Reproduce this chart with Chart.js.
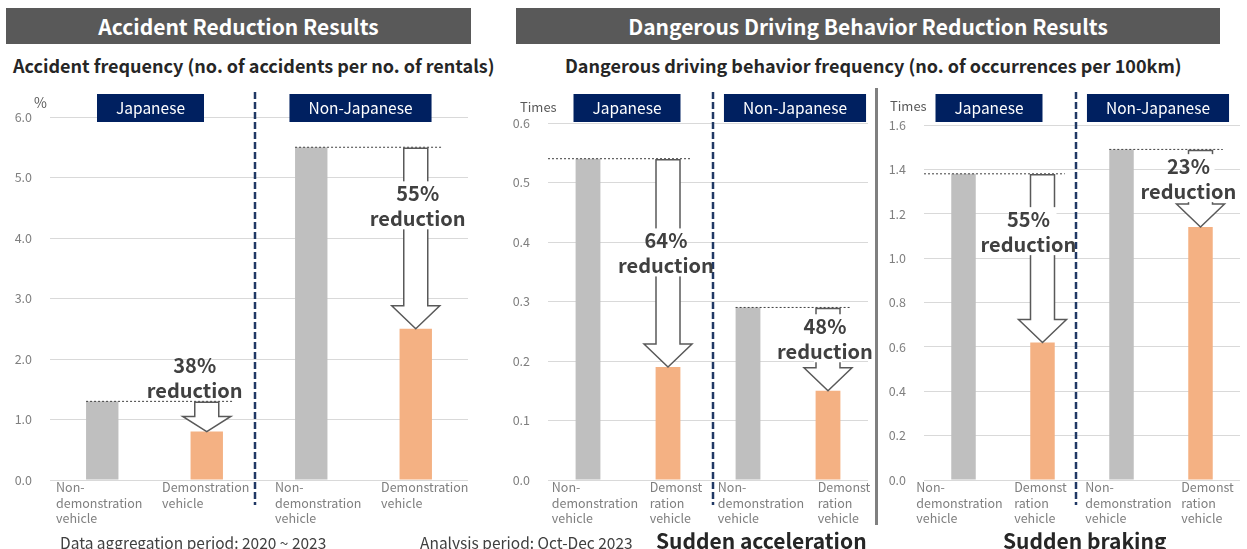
<!DOCTYPE html>
<html>
<head>
<meta charset="utf-8">
<script src="https://cdn.jsdelivr.net/npm/chart.js@4.4.0/dist/chart.umd.min.js"></script>
<style>
body { margin: 0; background: #fff; font-family: "Noto Sans CJK JP", "Noto Sans", sans-serif; }
#page { position: relative; width: 1247px; height: 549px; overflow: hidden; }
.head { position: absolute; top: 8px; height: 36px; background: #595959; color: #fff; font-weight: bold; font-size: 21px; line-height: 36px; text-align: center; }
.sub { position: absolute; top: 55px; font-weight: bold; font-size: 18px; line-height: 21px; color: #262626; white-space: nowrap; }
.unit { position: absolute; font-size: 13px; line-height: 16px; color: #595959; }
.foot { position: absolute; top: 532px; font-size: 15.5px; line-height: 20px; color: #404040; white-space: nowrap; }
.big { position: absolute; top: 527px; font-size: 21px; font-weight: bold; line-height: 26px; color: #262626; white-space: nowrap; }
canvas { position: absolute; }
</style>
</head>
<body>
<div id="page">
  <div class="head" style="left:6px;width:465px">Accident Reduction Results</div>
  <div class="head" style="left:516px;width:704px">Dangerous Driving Behavior Reduction Results</div>
  <div class="sub" style="left:13px">Accident frequency (no. of accidents per no. of rentals)</div>
  <div class="sub" style="left:565px">Dangerous driving behavior frequency (no. of occurrences per 100km)</div>

  <canvas id="accident" width="500" height="455" style="left:0;top:80px"></canvas>
  <canvas id="accel" width="375" height="455" style="left:500px;top:80px"></canvas>
  <canvas id="braking" width="369" height="455" style="left:878px;top:80px"></canvas>

  <div class="unit" style="left:34px;top:94px;font-size:14px">%</div>
  <div class="unit" style="left:520px;top:99px">Times</div>
  <div class="unit" style="left:890px;top:98px">Times</div>
  <div style="position:absolute;left:875px;top:88px;width:3px;height:437px;background:#808080"></div>

  <div class="foot" style="left:60px">Data aggregation period: 2020 ~ 2023</div>
  <div class="foot" style="left:420px">Analysis period: Oct-Dec 2023</div>
  <div class="big" style="left:656px">Sudden acceleration</div>
  <div class="big" style="left:1003px">Sudden braking</div>
</div>
<script>
// data
const groups = ['Japanese', 'Non-Japanese'];
const accidentLabels = [['Non-', 'demonstration', 'vehicle'], ['Demonstration', 'vehicle'], ['Non-', 'demonstration', 'vehicle'], ['Demonstration', 'vehicle']];
const behaviorLabels = [['Non-', 'demonstration', 'vehicle'], ['Demonst', 'ration', 'vehicle'], ['Non-', 'demonstration', 'vehicle'], ['Demonst', 'ration', 'vehicle']];
const accidentRate = [1.3, 0.8, 5.5, 2.5];
const accelRate = [0.54, 0.19, 0.29, 0.15];
const brakingRate = [1.38, 0.62, 1.49, 1.14];
const accidentCut = ['38%', '55%'];
const accelCut = ['64%', '48%'];
const brakingCut = ['55%', '23%'];

const FONT = '"Noto Sans CJK JP", "Noto Sans", sans-serif';
const barColors = ['#bfbfbf', '#f4b183', '#bfbfbf', '#f4b183'];

function blockArrow(ctx, cx, top, tip, shaftW, headW, headH) {
  const base = tip - headH;
  ctx.beginPath();
  ctx.moveTo(cx - shaftW / 2, top);
  ctx.lineTo(cx + shaftW / 2, top);
  ctx.lineTo(cx + shaftW / 2, base);
  ctx.lineTo(cx + headW / 2, base);
  ctx.lineTo(cx, tip);
  ctx.lineTo(cx - headW / 2, base);
  ctx.lineTo(cx - shaftW / 2, base);
  ctx.closePath();
  ctx.fillStyle = '#fff';
  ctx.fill();
  ctx.strokeStyle = '#595959';
  ctx.lineWidth = 1.5;
  ctx.stroke();
}

const annotate = {
  id: 'annotate',
  afterDraw(chart, args, o) {
    const { ctx, chartArea: a, scales: { x } } = chart;
    const bars = chart.getDatasetMeta(0).data;
    ctx.save();

    // dashed line between the two groups
    const sep = (x.getPixelForValue(1) + x.getPixelForValue(2)) / 2 + o.sepShift;
    ctx.strokeStyle = '#203864';
    ctx.lineWidth = 2.5;
    ctx.setLineDash([7, 3]);
    ctx.beginPath();
    ctx.moveTo(sep, 12);
    ctx.lineTo(sep, 425);
    ctx.stroke();
    ctx.setLineDash([]);

    // group boxes
    ctx.font = '15.5px ' + FONT;
    ctx.textAlign = 'center';
    ctx.textBaseline = 'middle';
    groups.forEach((g, i) => {
      const cx = (x.getPixelForValue(2 * i) + x.getPixelForValue(2 * i + 1)) / 2 + o.boxShift[i];
      const w = ctx.measureText(g).width + 38;
      ctx.fillStyle = '#002060';
      ctx.fillRect(cx - w / 2, 14, w, 28);
      ctx.fillStyle = '#fff';
      ctx.fillText(g, cx, 28.5);
    });

    // category labels, lines left aligned, block centred on the tick
    ctx.font = '12.5px ' + FONT;
    ctx.fillStyle = '#7f7f7f';
    ctx.textAlign = 'left';
    ctx.textBaseline = 'top';
    chart.data.labels.forEach((lines, i) => {
      const w = Math.max(...lines.map(s => ctx.measureText(s).width));
      const x0 = x.getPixelForValue(i) - w / 2 + o.labelShift[i];
      lines.forEach((s, k) => ctx.fillText(s, x0, a.bottom + 1 + k * 15.5));
    });

    // reduction arrows
    o.cuts.forEach((c, i) => {
      const g = bars[2 * i], d = bars[2 * i + 1];
      const x0 = (i === 0 && o.lineFromAxis) ? a.left : g.x - g.width / 2;
      ctx.strokeStyle = '#404040';
      ctx.lineWidth = 1;
      ctx.setLineDash([2, 2]);
      ctx.beginPath();
      ctx.moveTo(x0, g.y);
      ctx.lineTo(d.x + d.width / 2 + 10, g.y);
      ctx.stroke();
      ctx.setLineDash([]);

      const len = d.y - g.y;
      blockArrow(ctx, d.x, g.y + 1, d.y, 24, 48, Math.min(23, len / 2));

      const tx = d.x + o.textShift[i];
      let ty;
      if (o.textAt[i] < 0) {
        ty = g.y - 24;
      } else {
        ty = g.y + len * o.textAt[i];
        ctx.fillStyle = '#fff';
        ctx.fillRect(d.x - 14, ty - 24, 28, 48);
      }
      ctx.font = 'bold 20px ' + FONT;
      ctx.fillStyle = '#404040';
      ctx.textAlign = 'center';
      ctx.textBaseline = 'middle';
      ctx.fillText(c, tx, ty - 12);
      ctx.fillText('reduction', tx, ty + 13);
    });
    ctx.restore();
  }
};

function makeChart(id, labels, values, cuts, yMax, yStep, yWidth, pad, opts) {
  return new Chart(document.getElementById(id), {
    type: 'bar',
    data: {
      labels: labels,
      datasets: [{
        data: values,
        backgroundColor: barColors,
        barPercentage: 0.31,
        categoryPercentage: 1
      }]
    },
    options: {
      responsive: false,
      animation: false,
      layout: { padding: pad },
      plugins: {
        legend: { display: false },
        tooltip: { enabled: false },
        annotate: Object.assign({ cuts: cuts }, opts)
      },
      scales: {
        x: {
          grid: { display: false },
          border: { display: false },
          ticks: { display: false },
          afterFit: s => { s.height = 55; }
        },
        y: {
          min: 0,
          max: yMax,
          ticks: {
            stepSize: yStep,
            padding: 18,
            color: '#7f7f7f',
            font: { family: FONT, size: 12.5 },
            callback: v => v.toFixed(1)
          },
          grid: { color: '#d9d9d9', drawTicks: false },
          border: { display: false },
          afterFit: s => { s.width = yWidth; }
        }
      }
    },
    plugins: [annotate]
  });
}

makeChart('accident', accidentLabels, accidentRate, accidentCut, 6, 1, 50,
  { top: 37, right: 32, left: 0, bottom: 0 },
  { sepShift: -4, boxShift: [-4, -3], textShift: [-12, 2], textAt: [-1, 0.32],
    labelShift: [-3, -1, 7, 9], lineFromAxis: false });
makeChart('accel', behaviorLabels, accelRate, accelCut, 0.6, 0.1, 48,
  { top: 43, right: 7, left: 0, bottom: 0 },
  { sepShift: 5, boxShift: [-1, 7], textShift: [-2, -3], textAt: [0.45, 0.37],
    labelShift: [7, 8, 13, 16], lineFromAxis: true });
makeChart('braking', behaviorLabels, brakingRate, brakingCut, 1.6, 0.2, 46,
  { top: 45, right: 7, left: 0, bottom: 0 },
  { sepShift: -6, boxShift: [-14, -3], textShift: [-14, -12], textAt: [0.34, 0.37],
    labelShift: [-4, -2, 7, 7], lineFromAxis: true });
</script>
</body>
</html>
